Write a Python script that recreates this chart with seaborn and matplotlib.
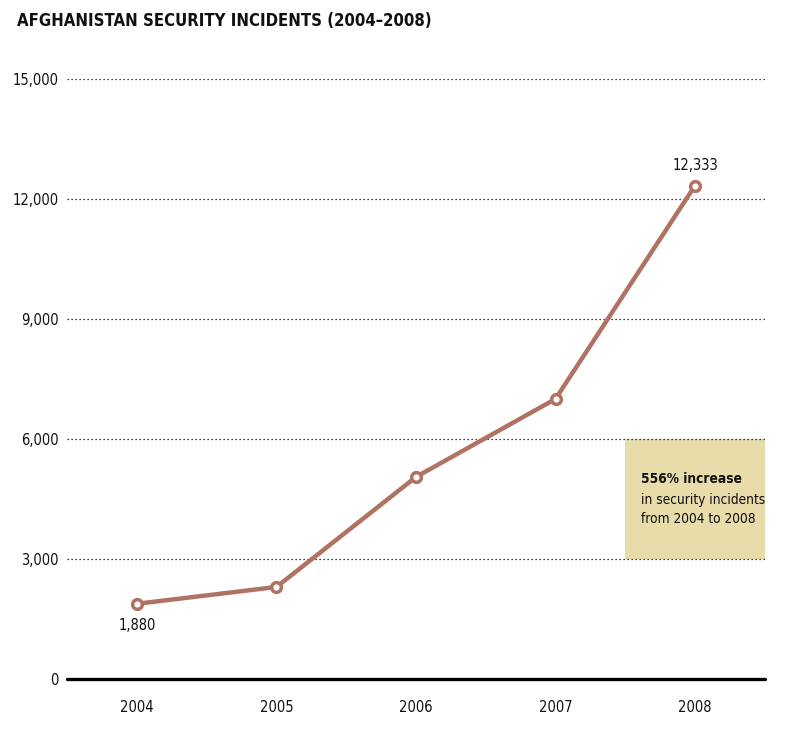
import matplotlib
matplotlib.use("Agg")
import matplotlib.pyplot as plt
import seaborn as sns
import pandas as pd
from matplotlib.patches import Rectangle

years = ["2004", "2005", "2006", "2007", "2008"]
incidents = [1880, 2300, 5050, 7000, 12333]
y_ticks = [0, 3000, 6000, 9000, 12000, 15000]
y_tick_labels = ["0", "3,000", "6,000", "9,000", "12,000", "15,000"]
title = "AFGHANISTAN SECURITY INCIDENTS (2004–2008)"
note_bold = "556% increase"
note_rest = "in security incidents\nfrom 2004 to 2008"

sns.set_theme(style="white")
plt.rcParams['font.family'] = ['DejaVu Sans']
plt.rcParams['font.stretch'] = 'condensed'

df = pd.DataFrame({"year": years, "incidents": incidents})
df["pos"] = range(len(years))

fig = plt.figure(figsize=(8.0, 7.37), dpi=100)
ax = fig.add_axes([0.084, 0.0787, 0.872, 0.8143])

line_color = "#B07262"
box_color = "#E8DCAA"
txt = "#111111"
fs = 10.5

ax.add_patch(Rectangle((3.5, 3000), 1.0, 3000, facecolor=box_color, edgecolor="none", zorder=0))

for yv in y_ticks[1:]:
    ax.axhline(yv, color="black", linestyle=(0, (1, 2.2)), linewidth=0.9, zorder=1)
ax.axhline(0, color="black", linewidth=2.4, zorder=2, clip_on=False)

sns.lineplot(data=df, x="pos", y="incidents", ax=ax, color=line_color, linewidth=3.2,
             marker="o", markersize=7, markerfacecolor="white", markeredgecolor=line_color,
             markeredgewidth=2.5, zorder=3)

ax.set_xlim(-0.5, 4.5)
ax.set_ylim(0, 15000)
ax.set_xticks(range(len(years)))
ax.set_xticklabels(years)
ax.set_yticks(y_ticks)
ax.set_yticklabels(y_tick_labels)
ax.tick_params(axis="both", length=0, labelsize=fs, colors=txt)
ax.tick_params(axis="x", pad=15)
ax.tick_params(axis="y", pad=6)
ax.set_xlabel("")
ax.set_ylabel("")
for s in ax.spines.values():
    s.set_visible(False)

ax.annotate("12,333", (4, incidents[4]), xytext=(0, 9), textcoords="offset points",
            ha="center", va="bottom", fontsize=fs, color=txt)
ax.annotate("1,880", (0, incidents[0]), xytext=(0, -10), textcoords="offset points",
            ha="center", va="top", fontsize=fs, color=txt)

ax.text(3.61, 5000, note_bold, fontsize=9.8, fontweight="bold", ha="left", va="center", color=txt)
ax.text(3.61, 4650, note_rest, fontsize=9.8, ha="left", va="top", color=txt, linespacing=1.5)

fig.text(0.021, 0.972, title, fontsize=12, fontweight="bold", ha="left", va="center", color=txt)

fig.savefig("out.png", dpi=100)
